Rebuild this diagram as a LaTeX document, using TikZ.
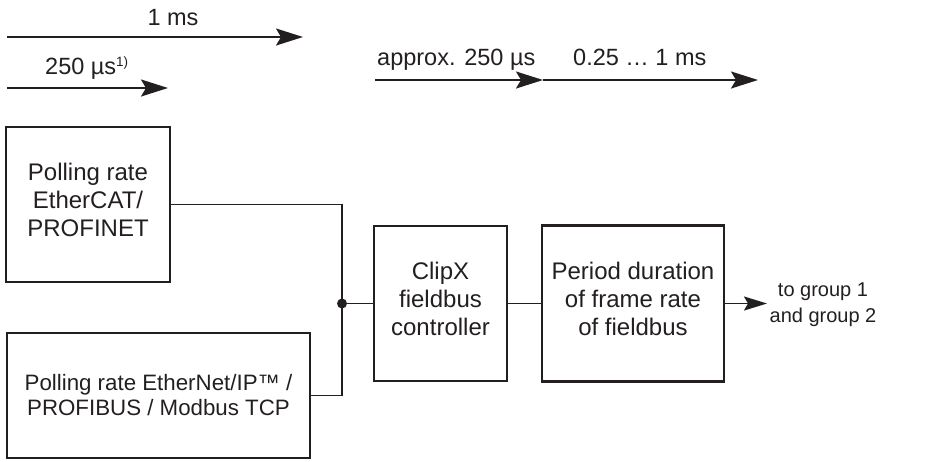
\documentclass[tikz,border=0pt]{standalone}
\usepackage{fontspec}
\setmainfont{Liberation Sans}
\usetikzlibrary{arrows.meta}
\definecolor{ink}{RGB}{35,31,32}
\begin{document}
\begin{tikzpicture}[x=1pt,y=-1pt,color=ink,
  box/.style={draw,line width=2.2pt,inner sep=0pt,align=center},
  bigtxt/.style={font=\fontsize{24}{28}\selectfont,text depth=10pt},
  midtxt/.style={font=\fontsize{22.3}{25}\selectfont},
  conn/.style={line width=1.6pt},
  timearrow/.style={line width=2pt,-{Stealth[length=27pt,width=17pt,inset=5pt]}},
  outarrow/.style={line width=1.8pt,-{Stealth[length=23pt,width=14pt,inset=4pt]}},
  toplbl/.style={font=\fontsize{23.5}{26}\selectfont,inner sep=0pt}]
\useasboundingbox (0,0) rectangle (933,461);

% timing arrows
\coordinate (t1s) at (7,37);
\coordinate (t1e) at (303,37);
\coordinate (t2s) at (7,88);
\coordinate (t2e) at (168,88);
\coordinate (t3s) at (375,80);
\coordinate (t3m) at (543,80);
\coordinate (t3e) at (758,80);
\draw[timearrow] (t1s) -- (t1e);
\draw[timearrow] (t2s) -- (t2e);
\draw[timearrow] (t3s) -- (t3m);
\draw[timearrow] (t3m) -- (t3e);
\node[toplbl,anchor=base] (l1) at (173,25) {1 ms};
\node[toplbl,anchor=base west] (l2) at (45,74) {250 µs\raisebox{8pt}{\fontsize{13.5}{13.5}\selectfont 1)}};
\node[toplbl,anchor=base west] (l3) at (377,65) {approx. 250 µs};
\node[toplbl,anchor=base west] (l4) at (573,65) {0.25 … 1 ms};

% boxes
\node[box,bigtxt,minimum width=164pt,minimum height=155pt] (pe) at (88,204.5)
  {Polling rate\\EtherCAT/\\PROFINET};
\node[box,midtxt,minimum width=303pt,minimum height=125pt] (pb) at (158.5,395.5)
  {Polling rate EtherNet/IP™ /\\PROFIBUS / Modbus TCP};
\node[box,bigtxt,minimum width=133pt,minimum height=155pt] (cx) at (440.5,303.5)
  {ClipX\\fieldbus\\controller};
\node[box,bigtxt,minimum width=182pt,minimum height=156pt] (pd) at (633,303.5)
  {Period duration\\of frame rate\\of fieldbus};

\coordinate (j) at (342,303.5);
\coordinate (out) at (767,303.5);
\node[font=\fontsize{20}{26}\selectfont,align=center,inner sep=0pt] (grp) at (823,305)
  {to group 1\\and group 2};

\draw[conn] (pe.east) -| (j);
\draw[conn] (pb.east) -| (j);
\draw[conn] (j) -- (cx.west);
\draw[conn] (cx.east) -- (pd.west);
\draw[outarrow] (pd.east) -- (out);
\fill (j) circle (5pt);
\end{tikzpicture}
\end{document}
